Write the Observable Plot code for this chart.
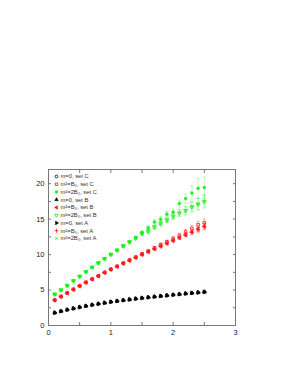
<!DOCTYPE html>
<html><head><meta charset="utf-8">
<script src="https://cdn.jsdelivr.net/npm/d3@7"></script>
<script src="https://cdn.jsdelivr.net/npm/@observablehq/plot@0.6"></script>
<style>html,body{margin:0;padding:0;background:#fff;}</style>
</head><body><div id="chart"></div>
<script>
const xs = [0.1,0.2,0.3,0.4,0.5,0.6,0.7,0.8,0.9,1.0,1.1,1.2,1.3,1.4,1.5,1.6,1.7,1.8,1.9,2.0,2.1,2.2,2.3,2.4,2.5];

const blackC = [1.80,2.02,2.22,2.41,2.58,2.75,2.90,3.05,3.19,3.33,3.45,3.56,3.67,3.77,3.87,3.97,4.06,4.15,4.24,4.33,4.42,4.50,4.58,4.66,4.74];
const blackB = [1.79,2.01,2.21,2.40,2.58,2.74,2.90,3.04,3.18,3.32,3.44,3.56,3.66,3.77,3.87,3.96,4.05,4.14,4.23,4.32,4.41,4.49,4.57,4.65,4.73];
const blackA = [1.80,2.02,2.22,2.41,2.59,2.75,2.91,3.05,3.19,3.33,3.45,3.57,3.67,3.78,3.88,3.97,4.06,4.15,4.24,4.33,4.42,4.50,4.58,4.66,4.74];

const redC = [3.60,4.10,4.60,5.10,5.60,6.10,6.55,7.00,7.50,7.95,8.35,8.80,9.25,9.65,10.10,10.50,10.95,11.40,11.80,12.25,12.70,13.20,13.70,14.20,14.50];
const redB = [3.55,4.05,4.55,5.05,5.55,6.05,6.50,6.95,7.45,7.90,8.30,8.75,9.15,9.55,10.00,10.40,10.80,11.20,11.60,12.00,12.40,12.80,13.20,13.60,14.00];
const redA = [3.60,4.10,4.60,5.10,5.60,6.05,6.55,7.00,7.45,7.90,8.35,8.75,9.20,9.60,10.00,10.40,10.80,11.15,11.55,11.95,12.35,12.75,13.10,13.50,13.90];
const errRedC = [0.05,0.05,0.05,0.06,0.06,0.07,0.07,0.08,0.09,0.10,0.11,0.12,0.13,0.14,0.16,0.18,0.20,0.22,0.25,0.28,0.32,0.36,0.42,0.48,0.55];
const errRedAB = [0.04,0.04,0.04,0.05,0.05,0.05,0.06,0.06,0.07,0.07,0.08,0.09,0.10,0.10,0.11,0.12,0.13,0.15,0.17,0.20,0.22,0.25,0.30,0.35,0.40];

const greenC = [4.40,5.00,5.65,6.30,6.95,7.60,8.20,8.85,9.45,10.05,10.65,11.25,11.80,12.40,13.10,13.80,14.60,15.00,15.70,16.00,17.20,17.90,18.70,19.35,19.45];
const greenB = [4.40,5.00,5.60,6.30,6.90,7.55,8.20,8.80,9.40,10.00,10.60,11.20,11.75,12.30,12.95,13.25,13.85,14.35,14.85,15.40,15.85,16.20,16.70,17.10,17.45];
const greenA = [4.45,5.00,5.60,6.30,6.95,7.60,8.20,8.80,9.40,10.00,10.60,11.20,11.80,12.35,13.00,13.35,13.90,14.40,14.90,15.35,15.90,16.15,16.75,17.15,17.55];
const errGreenC = [0.05,0.05,0.06,0.06,0.07,0.08,0.09,0.10,0.11,0.12,0.13,0.15,0.17,0.20,0.25,0.28,0.30,0.33,0.38,0.42,0.50,0.65,1.00,1.40,1.50];
const errGreenAB = [0.05,0.05,0.05,0.06,0.06,0.07,0.08,0.09,0.10,0.11,0.12,0.13,0.15,0.17,0.20,0.23,0.26,0.30,0.34,0.40,0.48,0.58,0.70,0.80,0.90];

const xTickLabels = [0,1,2,3];
const yTickLabels = [0,5,10,15,20];
const xMinor = [0,0.5,1,1.5,2,2.5,3];
const yMinor = [0,2.5,5,7.5,10,12.5,15,17.5,20];

const RED = "#ff1a1a", GREEN = "#1af01a", BLACK = "#000";
const series = [
  {label:"m=0, set C",        ys:blackC, err:null,      color:BLACK, symbol:"circle",   rotate:0,   fill:false},
  {label:"m²=B₀, set C",      ys:redC,   err:errRedC,   color:RED,   symbol:"square",   rotate:0,   fill:false},
  {label:"m²=2B₀, set C",     ys:greenC, err:errGreenC, color:GREEN, symbol:"circle",   rotate:0,   fill:true},
  {label:"m=0, set B",        ys:blackB, err:null,      color:BLACK, symbol:"triangle", rotate:0,   fill:true},
  {label:"m²=B₀, set B",      ys:redB,   err:errRedAB,  color:RED,   symbol:"triangle", rotate:-90, fill:true},
  {label:"m²=2B₀, set B",     ys:greenB, err:errGreenAB,color:GREEN, symbol:"triangle", rotate:180, fill:false},
  {label:"m=0, set A",        ys:blackA, err:null,      color:BLACK, symbol:"triangle", rotate:90,  fill:true},
  {label:"m²=B₀, set A",      ys:redA,   err:errRedAB,  color:RED,   symbol:"plus",     rotate:0,   fill:false},
  {label:"m²=2B₀, set A",     ys:greenA, err:errGreenAB,color:GREEN, symbol:"times",    rotate:0,   fill:false}
];

const capSymbol = {draw(ctx, size){ const w = Math.sqrt(size); ctx.moveTo(-w/2,0); ctx.lineTo(w/2,0);} };

const marks = [Plot.frame({stroke:"#777", strokeWidth:1})];

function dotOpts(s, extra){
  return Object.assign({
    symbol: s.symbol, rotate: s.rotate, r: 1.5,
    fill: s.fill ? s.color : "none",
    stroke: s.color, strokeWidth: s.fill ? 0.4 : 0.8
  }, extra);
}

for (const s of series) {
  const rows = xs.map((x,i)=>({x, y:s.ys[i], e: s.err ? s.err[i] : 0}));
  if (s.err) {
    marks.push(Plot.ruleX(rows, {x:"x", y1:d=>d.y-d.e, y2:d=>d.y+d.e, stroke:s.color, strokeOpacity:0.45, strokeWidth:0.6}));
    marks.push(Plot.dot(rows, {x:"x", y:d=>d.y-d.e, symbol:capSymbol, r:2, stroke:s.color, strokeOpacity:0.45, strokeWidth:0.6}));
    marks.push(Plot.dot(rows, {x:"x", y:d=>d.y+d.e, symbol:capSymbol, r:2, stroke:s.color, strokeOpacity:0.45, strokeWidth:0.6}));
  }
}
for (const s of series) {
  const rows = xs.map((x,i)=>({x, y:s.ys[i]}));
  marks.push(Plot.dot(rows, dotOpts(s, {x:"x", y:"y"})));
}

marks.push(Plot.axisX({anchor:"bottom", ticks:xMinor, tickSize:-3, tickFormat:()=>"", stroke:"#777", label:null}));
marks.push(Plot.axisX({anchor:"top", ticks:xMinor, tickSize:-3, tickFormat:()=>"", stroke:"#777", label:null}));
marks.push(Plot.axisY({anchor:"left", ticks:yMinor, tickSize:-3, tickFormat:()=>"", stroke:"#777", label:null}));
marks.push(Plot.axisY({anchor:"right", ticks:yMinor, tickSize:-3, tickFormat:()=>"", stroke:"#777", label:null}));
marks.push(Plot.axisX({anchor:"bottom", ticks:xTickLabels, tickFormat:d3.format("d"), tickSize:0, tickPadding:4, label:null, fill:"#222"}));
marks.push(Plot.axisY({anchor:"left", ticks:yTickLabels, tickFormat:d3.format("d"), tickSize:0, tickPadding:4, label:null, fill:"#222"}));

series.forEach((s,i)=>{
  marks.push(Plot.dot([s], dotOpts(s, {frameAnchor:"top-left", dx:8, dy:7+i*7.75, r:1.4})));
  marks.push(Plot.text([s], {text:"label", frameAnchor:"top-left", dx:12, dy:7+i*7.75, textAnchor:"start", fontSize:5.8, fill:"#333", lineAnchor:"middle"}));
});

const chart = Plot.plot({
  width:284, height:367,
  marginTop:169, marginBottom:42, marginLeft:48, marginRight:49,
  x:{domain:[0,3]},
  y:{domain:[0,22]},
  style:{fontFamily:"'Liberation Sans', Arial, sans-serif", fontSize:"7.5px", background:"#fff"},
  marks
});
document.getElementById("chart").appendChild(chart);
</script>
</body></html>
